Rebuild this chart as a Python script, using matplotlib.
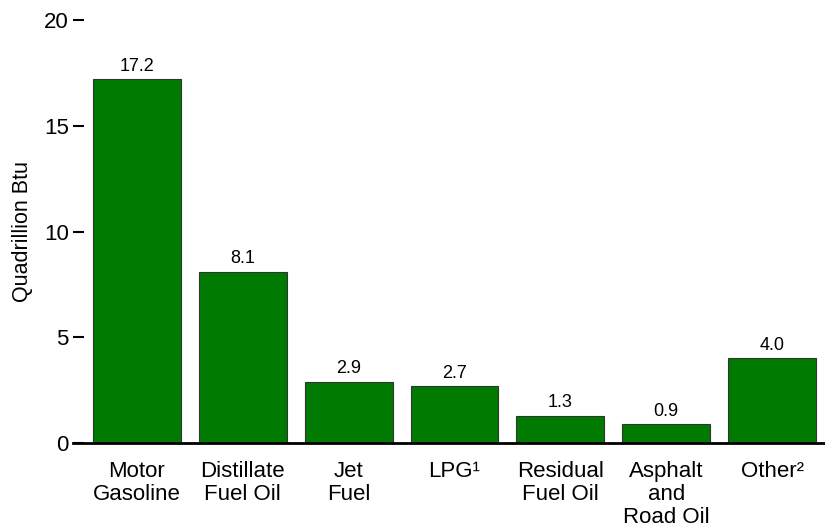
import matplotlib
matplotlib.use("Agg")
import matplotlib.pyplot as plt

categories = ["Motor\nGasoline", "Distillate\nFuel Oil", "Jet\nFuel", "LPG\u00b9",
              "Residual\nFuel Oil", "Asphalt\nand\nRoad Oil", "Other\u00b2"]
values = [17.2, 8.1, 2.9, 2.7, 1.3, 0.9, 4.0]
yticks = [0, 5, 10, 15, 20]

plt.rcParams['font.family'] = ['Liberation Sans', 'DejaVu Sans']

fig = plt.figure(figsize=(8.25, 5.31), dpi=100)
ax = fig.add_axes([0.1018, 0.1657, 0.8982, 0.7966])

x = range(len(categories))
bars = ax.bar(x, values, width=0.83, color='#007a00', edgecolor='#333333', linewidth=0.8)
for xi, v in zip(x, values):
    ax.text(xi, v + 0.2, f"{v:.1f}", ha='center', va='bottom', fontsize=13)

ax.set_xlim(-0.5, 6.5)
ax.set_ylim(0, 20)
ax.set_yticks(yticks)
ax.set_xticks(list(x))
ax.set_xticklabels(categories, fontsize=16, linespacing=1.13, va='top')
ax.tick_params(axis='x', length=0, pad=13)
ax.tick_params(axis='y', length=8, width=1.5, labelsize=16, pad=3)
ax.set_ylabel("Quadrillion Btu", fontsize=15.5, labelpad=8)

for s in ['top', 'right', 'left']:
    ax.spines[s].set_visible(False)
ax.spines['bottom'].set_linewidth(2)
ax.spines['bottom'].set_bounds(-0.6, 6.5)

fig.savefig("out.png", dpi=100, facecolor='white')
